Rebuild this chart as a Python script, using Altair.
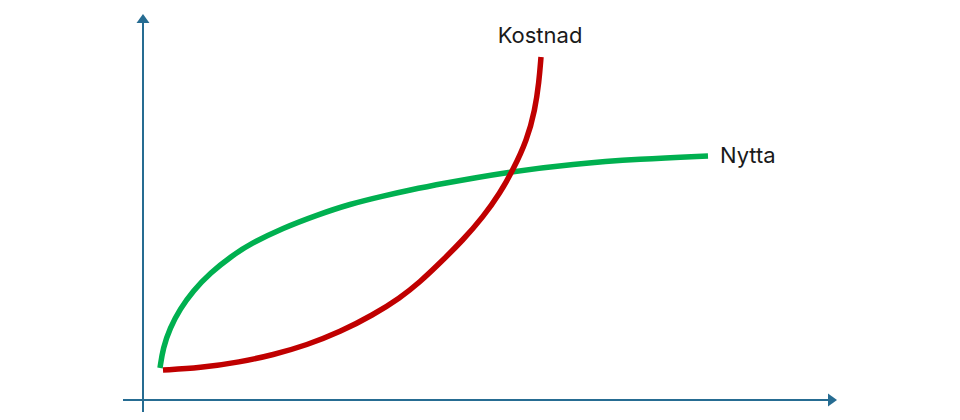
import altair as alt
import pandas as pd

# Curve values (abstract units; origin at the axis crossing)
nytta_x = [1.7, 2.0, 2.7, 3.7, 5.0, 6.7, 9.0, 10.7, 14.0, 17.4, 20.7, 24.0, 26.7, 29.7, 36.4, 43.0, 49.7, 56.5]
nytta_y = [3.2, 5.2, 7.2, 9.1, 10.9, 12.7, 14.5, 15.6, 17.2, 18.5, 19.6, 20.4, 21.0, 21.6, 22.8, 23.6, 24.1, 24.4]

kostnad_x = [2.0, 5.7, 9.7, 13.0, 16.4, 19.7, 23.0, 25.7, 27.7, 29.7, 32.0, 34.0, 35.7, 37.0, 38.4, 39.2, 39.6, 39.8]
kostnad_y = [3.0, 3.2, 3.8, 4.5, 5.5, 6.8, 8.5, 10.2, 11.8, 13.7, 16.0, 18.3, 20.7, 23.0, 26.0, 29.0, 31.8, 34.3]

series_names = ["Nytta", "Kostnad"]
series_colors = ["#00b050", "#c00000"]

kostnad_label = {"t": "Kostnad", "x": 39.7, "y": 35.7}
nytta_label = {"t": "Nytta", "x": 57.7, "y": 23.7}

# Axis extents
x_axis_from, x_axis_to = -2.0, 68.5
y_axis_from, y_axis_to = -1.2, 37.7

AXIS_COLOR = "#266c92"
TEXT_COLOR = "#1a1a1a"

rows = []
for i, (x, y) in enumerate(zip(nytta_x, nytta_y)):
    rows.append({"serie": "Nytta", "x": x, "y": y, "i": i})
for i, (x, y) in enumerate(zip(kostnad_x, kostnad_y)):
    rows.append({"serie": "Kostnad", "x": x, "y": y, "i": i})
curves = pd.DataFrame(rows)

xs = alt.Scale(domain=[-13.5, 80.9], nice=False, zero=False)
ys = alt.Scale(domain=[-1.2, 39.2], nice=False, zero=False)

lines = alt.Chart(curves).mark_line(strokeWidth=5.5, interpolate="basis", strokeCap="butt").encode(
    x=alt.X("x:Q", scale=xs, axis=None),
    y=alt.Y("y:Q", scale=ys, axis=None),
    color=alt.Color("serie:N", scale=alt.Scale(domain=series_names, range=series_colors), legend=None),
    order="i:Q",
)

hax = pd.DataFrame({"x": [x_axis_from], "x2": [x_axis_to], "y": [0.0]})
vax = pd.DataFrame({"x": [0.0], "y": [y_axis_from], "y2": [y_axis_to]})

hrule = alt.Chart(hax).mark_rule(color=AXIS_COLOR, strokeWidth=2).encode(
    x=alt.X("x:Q", scale=xs, axis=None), x2="x2:Q", y=alt.Y("y:Q", scale=ys, axis=None)
)
vrule = alt.Chart(vax).mark_rule(color=AXIS_COLOR, strokeWidth=2).encode(
    x=alt.X("x:Q", scale=xs, axis=None), y=alt.Y("y:Q", scale=ys, axis=None), y2="y2:Q"
)

up_arrow = alt.Chart(pd.DataFrame({"x": [0.0], "y": [y_axis_to]})).mark_point(
    shape="M0,-1L-0.72,0L0.72,0Z", size=324, filled=True, opacity=1, color=AXIS_COLOR
).encode(x=alt.X("x:Q", scale=xs, axis=None), y=alt.Y("y:Q", scale=ys, axis=None))

right_arrow = alt.Chart(pd.DataFrame({"x": [x_axis_to], "y": [0.0]})).mark_point(
    shape="M1,0L0,-0.72L0,0.72Z", size=324, filled=True, opacity=1, color=AXIS_COLOR
).encode(x=alt.X("x:Q", scale=xs, axis=None), y=alt.Y("y:Q", scale=ys, axis=None))

lab_center = alt.Chart(pd.DataFrame([kostnad_label])).mark_text(
    align="center", baseline="alphabetic", fontSize=22, font="Inter", color=TEXT_COLOR
).encode(x=alt.X("x:Q", scale=xs, axis=None), y=alt.Y("y:Q", scale=ys, axis=None), text="t:N")
lab_left = alt.Chart(pd.DataFrame([nytta_label])).mark_text(
    align="left", baseline="alphabetic", fontSize=22, font="Inter", color=TEXT_COLOR
).encode(x=alt.X("x:Q", scale=xs, axis=None), y=alt.Y("y:Q", scale=ys, axis=None), text="t:N")

chart = alt.layer(vrule, hrule, up_arrow, right_arrow, lines, lab_center, lab_left).properties(
    width=944, height=404, padding=0, autosize=alt.AutoSizeParams(type="none"), background="white"
).configure_view(strokeWidth=0)

chart.save("out.html", embed_options={"renderer": "svg", "actions": False})
